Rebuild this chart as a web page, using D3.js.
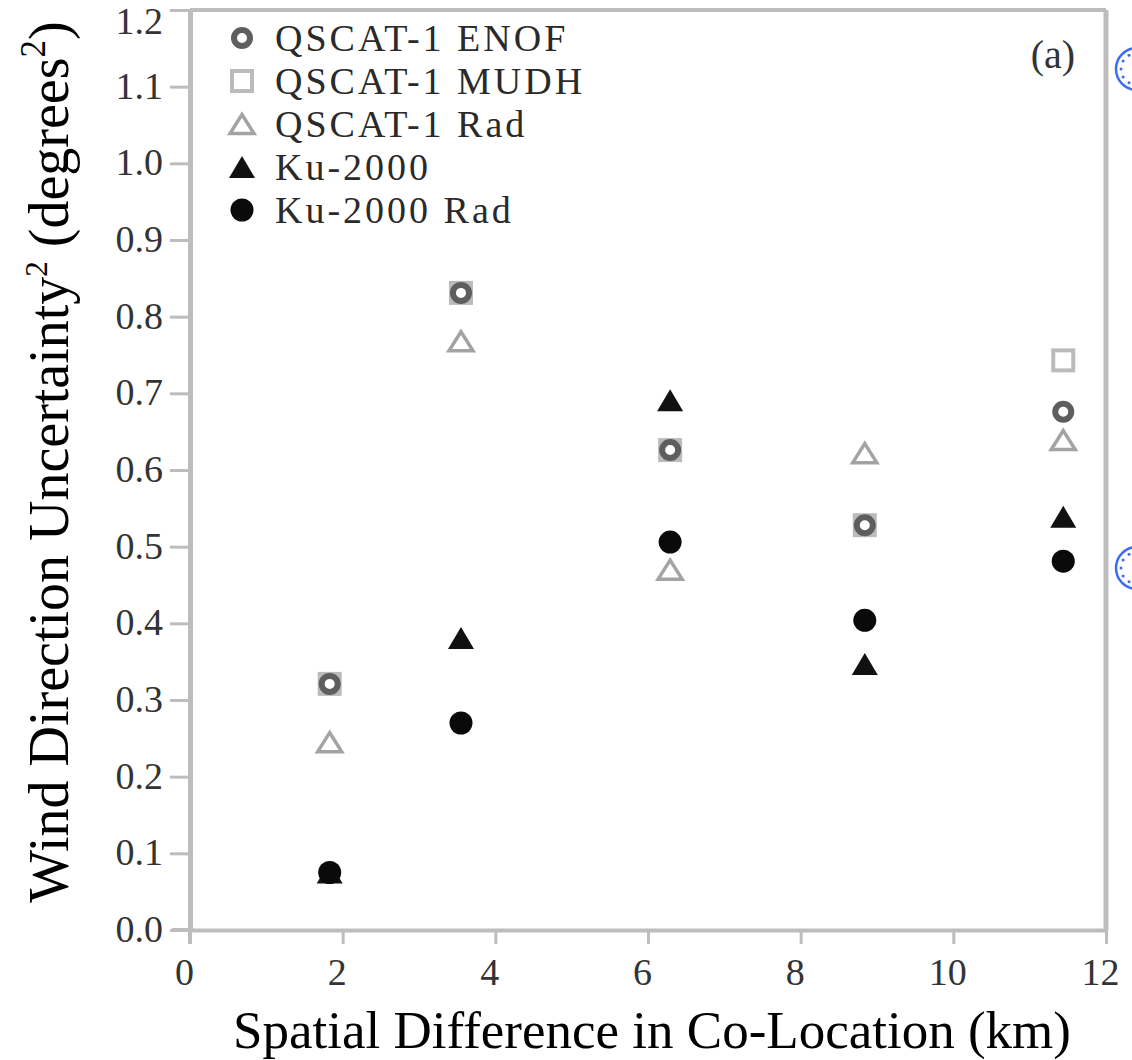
<!DOCTYPE html>
<html>
<head>
<meta charset="utf-8">
<script src="https://cdn.jsdelivr.net/npm/d3@7"></script>
<style>
  html, body { margin: 0; padding: 0; background: #fff; }
  svg { display: block; }
</style>
</head>
<body>
<svg id="chart" width="1132" height="1060"></svg>
<script>
// values
const distances = [1.83, 3.55, 6.29, 8.84, 11.44];
const qscatEnof = [0.321, 0.831, 0.626, 0.528, 0.676];
const qscatMudh = [0.321, 0.831, 0.626, 0.528, 0.743];
const qscatRad  = [0.245, 0.768, 0.470, 0.622, 0.639];
const ku2000    = [0.075, 0.381, 0.691, 0.347, 0.539];
const ku2000Rad = [0.075, 0.270, 0.506, 0.404, 0.481];

const xTicks = [0, 2, 4, 6, 8, 10, 12];
const yTicks = [0.0, 0.1, 0.2, 0.3, 0.4, 0.5, 0.6, 0.7, 0.8, 0.9, 1.0, 1.1, 1.2];

const seriesNames = ["QSCAT-1 ENOF", "QSCAT-1 MUDH", "QSCAT-1 Rad", "Ku-2000", "Ku-2000 Rad"];

const svg = d3.select("#chart");
const axisGray = "#bdbdbd";
const serif = "'Liberation Serif', 'Times New Roman', serif";

const plotL = 190, plotR = 1106, plotT = 10, plotB = 930;

const x = d3.scaleLinear().domain([0, 12]).range([plotL, plotR]);
const y = d3.scaleLinear().domain([0, 1.2]).range([plotB, plotT]);

// frame (top + right)
svg.append("line")
  .attr("x1", plotL).attr("x2", plotR).attr("y1", plotT).attr("y2", plotT)
  .attr("stroke", axisGray).attr("stroke-width", 4);
svg.append("line")
  .attr("x1", plotR).attr("x2", plotR).attr("y1", plotT).attr("y2", plotB)
  .attr("stroke", axisGray).attr("stroke-width", 5);

// x axis
const gx = svg.append("g")
  .attr("transform", `translate(0,${plotB})`)
  .call(d3.axisBottom(x).tickValues(xTicks).tickSize(14).tickSizeOuter(0).tickPadding(14));
gx.select(".domain").attr("stroke", axisGray).attr("stroke-width", 4);
gx.selectAll(".tick line").attr("stroke", axisGray).attr("stroke-width", 3);
gx.selectAll(".tick text")
  .attr("font-family", serif).attr("font-size", 38).attr("fill", "#333")
  .attr("dx", -6);

// y axis
const gy = svg.append("g")
  .attr("transform", `translate(${plotL},0)`)
  .call(d3.axisLeft(y).tickValues(yTicks).tickSize(20).tickSizeOuter(0).tickPadding(7)
    .tickFormat(d3.format(".1f")));
gy.select(".domain").attr("stroke", axisGray).attr("stroke-width", 5);
gy.selectAll(".tick line").attr("stroke", axisGray).attr("stroke-width", 3);
gy.selectAll(".tick text")
  .attr("font-family", serif).attr("font-size", 38).attr("fill", "#333")
  .attr("dy", d => d === 1.2 ? "0.62em" : "0.3em");

// axis lines run past the corner like the ticks do
svg.append("line")
  .attr("x1", plotL - 18).attr("x2", plotL).attr("y1", plotB).attr("y2", plotB)
  .attr("stroke", axisGray).attr("stroke-width", 4);
svg.append("line")
  .attr("x1", plotL).attr("x2", plotL).attr("y1", plotB).attr("y2", plotB + 14)
  .attr("stroke", axisGray).attr("stroke-width", 4);

// marker painters
function openCircle(g, cx, cy) {
  g.append("circle").attr("cx", cx).attr("cy", cy).attr("r", 8)
    .attr("fill", "#fff").attr("stroke", "#5e5e5e").attr("stroke-width", 6);
}
function openSquare(g, cx, cy) {
  g.append("rect").attr("x", cx - 10).attr("y", cy - 10).attr("width", 20).attr("height", 20)
    .attr("fill", "#fff").attr("stroke", "#bbb").attr("stroke-width", 4);
}
function triPath(cx, cy, w, h) {
  return `M${cx},${cy - h / 2}L${cx + w / 2},${cy + h / 2}L${cx - w / 2},${cy + h / 2}Z`;
}
function openTriangle(g, cx, cy) {
  g.append("path").attr("d", triPath(cx, cy, 24, 19))
    .attr("fill", "#fff").attr("stroke", "#a3a3a3").attr("stroke-width", 3.5)
    .attr("stroke-linejoin", "miter");
}
function filledTriangle(g, cx, cy) {
  g.append("path").attr("d", triPath(cx, cy, 26, 22)).attr("fill", "#111");
}
function filledCircle(g, cx, cy) {
  g.append("circle").attr("cx", cx).attr("cy", cy).attr("r", 11.5).attr("fill", "#0a0a0a");
}

const painters = [openCircle, openSquare, openTriangle, filledTriangle, filledCircle];
const seriesValues = [qscatEnof, qscatMudh, qscatRad, ku2000, ku2000Rad];

// draw order: squares under circles
const drawOrder = [1, 0, 2, 3, 4];
const marks = svg.append("g");
drawOrder.forEach(s => {
  seriesValues[s].forEach((v, i) => painters[s](marks, x(distances[i]), y(v)));
});

// legend
const legend = svg.append("g");
seriesNames.forEach((name, i) => {
  const cy = 38 + i * 43;
  painters[i](legend, 242, cy);
  legend.append("text")
    .attr("x", 275).attr("y", cy + 13)
    .attr("font-family", serif).attr("font-size", 38).attr("fill", "#2a2a2a")
    .attr("letter-spacing", 3)
    .text(name);
});

// panel label
svg.append("text")
  .attr("x", 1053).attr("y", 68).attr("text-anchor", "middle")
  .attr("font-family", serif).attr("font-size", 40).attr("fill", "#333")
  .text("(a)");

// axis titles
svg.append("text")
  .attr("x", 652).attr("y", 1048).attr("text-anchor", "middle")
  .attr("font-family", serif).attr("font-size", 53).attr("fill", "#000")
  .text("Spatial Difference in Co-Location (km)");

const yTitle = svg.append("text")
  .attr("transform", "translate(68,462) rotate(-90)")
  .attr("text-anchor", "middle")
  .attr("font-family", serif).attr("font-size", 56).attr("fill", "#000");
yTitle.append("tspan").text("Wind Direction Uncertainty");
yTitle.append("tspan").attr("font-size", 31).attr("dy", -21).text("2");
yTitle.append("tspan").attr("dy", 21).text(" (degrees");
yTitle.append("tspan").attr("font-size", 35).attr("dy", -23).text("2");
yTitle.append("tspan").attr("dy", 23).text(")");

// clipped blue annotation rings at the right edge
[69, 568].forEach(cy => {
  const ring = svg.append("g");
  ring.append("circle").attr("cx", 1137).attr("cy", cy).attr("r", 21)
    .attr("fill", "none").attr("stroke", "#3c6cf2").attr("stroke-width", 2.5);
  d3.range(12).forEach(k => {
    const a = k * Math.PI / 6;
    ring.append("circle")
      .attr("cx", 1137 + 16 * Math.cos(a)).attr("cy", cy + 16 * Math.sin(a))
      .attr("r", 1.5).attr("fill", "#3c6cf2");
  });
});
</script>
</body>
</html>
